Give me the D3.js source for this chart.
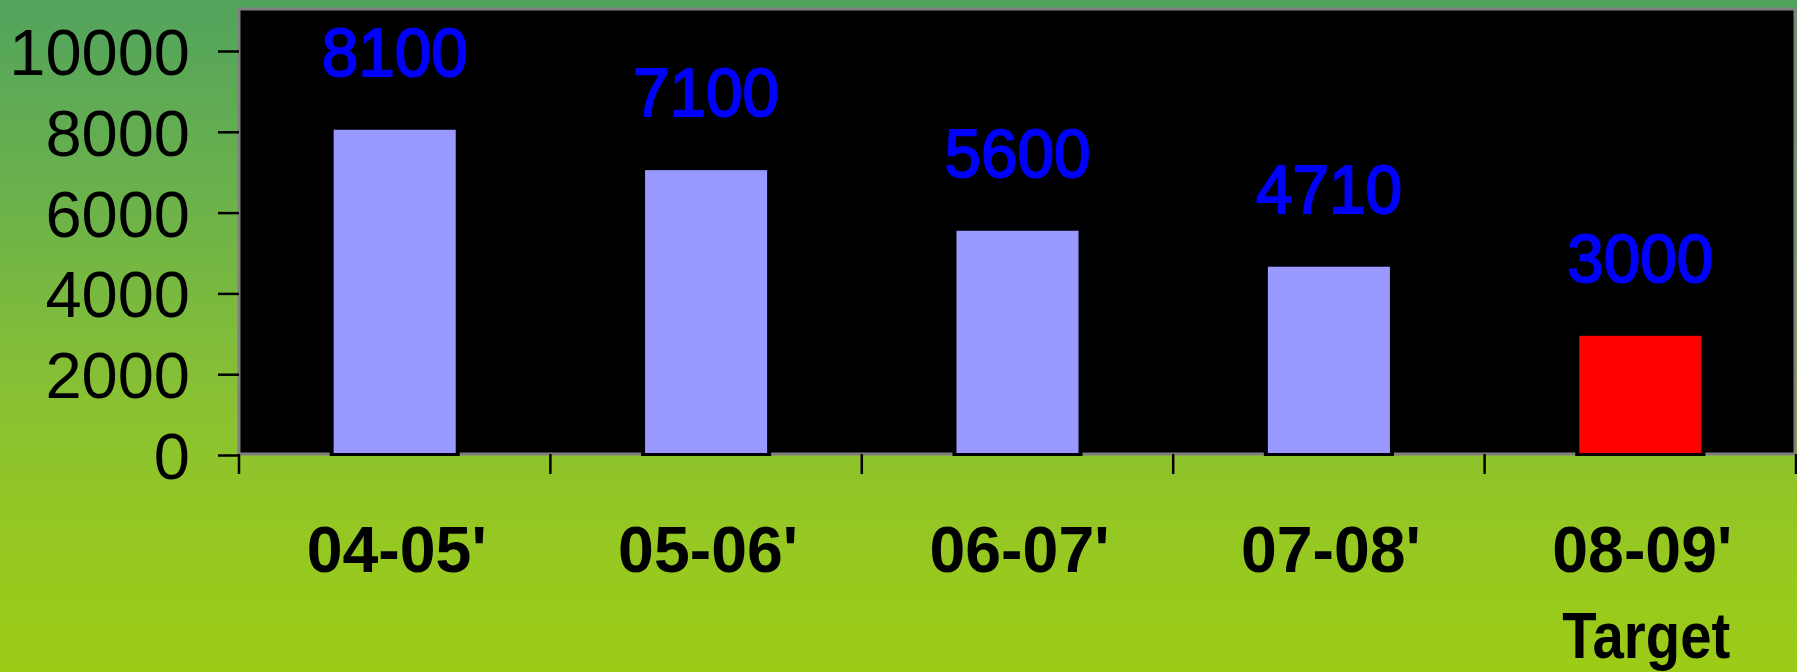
<!DOCTYPE html>
<html>
<head>
<meta charset="utf-8">
<script src="https://cdn.jsdelivr.net/npm/d3@7"></script>
<style>
  html, body { margin: 0; padding: 0; overflow: hidden; }
  svg { display: block; }
</style>
</head>
<body>
<svg id="chart" width="1797" height="672"></svg>
<script>
// ---- data ----
const categories = ["04-05'", "05-06'", "06-07'", "07-08'", "08-09'"];
const subLabels  = ["", "", "", "", "Target"];
const values     = [8100, 7100, 5600, 4710, 3000];
const yTicks     = [0, 2000, 4000, 6000, 8000, 10000];
const targetCategory = "08-09'";

// ---- layout ----
const W = 1797, H = 672;
const plot = { left: 239, right: 1796, top: 9, bottom: 455 };

const svg = d3.select("#chart");

// background gradient
const defs = svg.append("defs");
const grad = defs.append("linearGradient")
  .attr("id", "bg").attr("x1", 0).attr("y1", 0).attr("x2", 0).attr("y2", 1);
[[0, "#52a35d"], [0.3, "#6cb24b"], [0.6, "#89c132"], [0.8, "#95c822"], [1, "#9ccc17"]]
  .forEach(([o, c]) => grad.append("stop").attr("offset", o).attr("stop-color", c));
svg.append("rect").attr("width", W).attr("height", H).attr("fill", "url(#bg)");

// scales
const x = d3.scaleBand()
  .domain(categories)
  .range([plot.left, plot.right])
  .paddingInner(0.608)
  .paddingOuter(0.304);

const y = d3.scaleLinear()
  .domain([0, 10000])
  .range([plot.bottom, 51]);

// plot area
svg.append("rect")
  .attr("x", plot.left).attr("y", plot.top)
  .attr("width", plot.right - plot.left - 1)
  .attr("height", plot.bottom - plot.top - 1)
  .attr("fill", "#000")
  .attr("stroke", "#808080")
  .attr("stroke-width", 3);

// bars (black halo then fill)
const data = categories.map((c, i) => ({ c, v: values[i], sub: subLabels[i] }));

svg.append("g").selectAll("rect").data(data).join("rect")
  .attr("x", d => x(d.c) - 4)
  .attr("y", d => y(d.v) + 2)
  .attr("width", x.bandwidth() + 8)
  .attr("height", d => y(0) - y(d.v) - 1)
  .attr("fill", "#000");

svg.append("g").selectAll("rect").data(data).join("rect")
  .attr("x", d => x(d.c))
  .attr("y", d => y(d.v) + 2)
  .attr("width", x.bandwidth())
  .attr("height", d => y(0) - y(d.v) - 4)
  .attr("fill", d => d.c === targetCategory ? "#ff0000" : "#9999ff");

// value labels
svg.append("g").selectAll("text").data(data).join("text")
  .attr("x", d => x(d.c) + x.bandwidth() / 2)
  .attr("y", d => y(d.v) - 52)
  .attr("text-anchor", "middle")
  .attr("font-family", "'Liberation Sans', Arial, sans-serif")
  .attr("font-size", 68)
  .attr("textLength", 146)
  .attr("lengthAdjust", "spacingAndGlyphs")
  .attr("fill", "#0000ff")
  .attr("stroke", "#0000ff")
  .attr("stroke-width", 2)
  .text(d => d.v);

// y axis
const yAxis = d3.axisLeft(y).tickValues(yTicks).tickSize(21).tickPadding(28)
  .tickFormat(d3.format("d"));
const gy = svg.append("g").attr("transform", `translate(${plot.left},0)`).call(yAxis);
gy.select(".domain").remove();
gy.selectAll(".tick line").attr("stroke", "#000").attr("stroke-width", 2.5);
gy.selectAll(".tick text")
  .attr("font-family", "'Liberation Sans', Arial, sans-serif")
  .attr("font-size", 65)
  .attr("fill", "#000")
  .attr("dy", "0.36em");

// x axis ticks at band boundaries
const step = x.step();
const bounds = categories.map(c => x(c) + x.bandwidth() / 2 - step / 2)
  .concat([x(categories[categories.length - 1]) + x.bandwidth() / 2 + step / 2]);
svg.append("g").selectAll("line").data(bounds).join("line")
  .attr("x1", d => d).attr("x2", d => d)
  .attr("y1", plot.bottom - 1).attr("y2", plot.bottom + 19)
  .attr("stroke", "#000").attr("stroke-width", 2.5);

// category labels
const xl = svg.append("g").selectAll("g").data(data).join("g");
xl.append("text")
  .attr("x", d => x(d.c) + x.bandwidth() / 2 + 2)
  .attr("y", 572)
  .attr("text-anchor", "middle")
  .attr("font-family", "'Liberation Sans', Arial, sans-serif")
  .attr("font-weight", "bold")
  .attr("font-size", 64)
  .attr("textLength", 180)
  .attr("lengthAdjust", "spacingAndGlyphs")
  .attr("fill", "#000")
  .text(d => d.c);
xl.filter(d => d.sub).append("text")
  .attr("x", d => x(d.c) + x.bandwidth() / 2 + 6)
  .attr("y", 658)
  .attr("text-anchor", "middle")
  .attr("font-family", "'Liberation Sans', Arial, sans-serif")
  .attr("font-weight", "bold")
  .attr("font-size", 64)
  .attr("textLength", 168)
  .attr("lengthAdjust", "spacingAndGlyphs")
  .attr("fill", "#000")
  .text(d => d.sub);
</script>
</body>
</html>
